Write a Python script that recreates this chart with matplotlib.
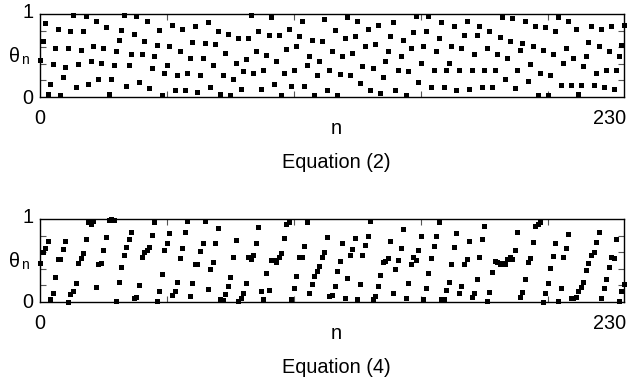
import numpy as np
import matplotlib
matplotlib.use("Agg")
import matplotlib.pyplot as plt

plt.rcParams['font.family'] = ['Liberation Sans', 'DejaVu Sans']

# theta_n values, n = 0..230
theta_eq2 = [
    0.44, 0.67, 0.89, 0.04, 0.16, 0.40, 0.59, 0.82, 0.02, 0.24,
    0.36, 0.59, 0.79, 0.99, 0.12, 0.40, 0.57, 0.79, 0.98, 0.16,
    0.43, 0.62, 0.91, 0.22, 0.41, 0.59, 0.84, 0.04, 0.22, 0.38,
    0.55, 0.69, 0.81, 0.99, 0.13, 0.38, 0.52, 0.76, 0.98, 0.18,
    0.52, 0.68, 0.91, 0.11, 0.35, 0.49, 0.63, 0.81, 0.02, 0.29,
    0.39, 0.61, 0.87, 0.09, 0.27, 0.56, 0.82, 0.09, 0.29, 0.47,
    0.66, 0.86, 0.06, 0.26, 0.47, 0.65, 0.90, 0.12, 0.39, 0.64,
    0.79, 0.04, 0.27, 0.53, 0.76, 0.03, 0.22, 0.41, 0.71, 0.10,
    0.31, 0.46, 0.71, 0.99, 0.29, 0.55, 0.80, 0.10, 0.33, 0.51,
    0.75, 0.96, 0.16, 0.43, 0.75, 0.02, 0.29, 0.58, 0.82, 0.13,
    0.33, 0.62, 0.74, 0.92, 0.13, 0.38, 0.49, 0.69, 0.02, 0.27,
    0.43, 0.68, 0.94, 0.08, 0.32, 0.56, 0.81, 0.03, 0.28, 0.49,
    0.71, 0.96, 0.26, 0.53, 0.73, 0.92, 0.17, 0.37, 0.61, 0.82,
    0.08, 0.35, 0.64, 0.87, 0.05, 0.24, 0.43, 0.56, 0.74, 0.90,
    0.08, 0.33, 0.49, 0.69, 0.03, 0.31, 0.59, 0.78, 0.98, 0.18,
    0.41, 0.61, 0.79, 0.98, 0.12, 0.33, 0.55, 0.71, 0.90, 0.12,
    0.33, 0.41, 0.62, 0.85, 0.08, 0.33, 0.59, 0.75, 0.91, 0.10,
    0.33, 0.52, 0.75, 0.86, 0.12, 0.33, 0.59, 0.79, 0.12, 0.33,
    0.52, 0.72, 0.96, 0.22, 0.47, 0.67, 0.95, 0.11, 0.33, 0.57,
    0.65, 0.91, 0.19, 0.40, 0.61, 0.85, 0.02, 0.29, 0.57, 0.84,
    0.03, 0.26, 0.52, 0.79, 0.96, 0.14, 0.41, 0.59, 0.92, 0.14,
    0.47, 0.82, 0.04, 0.14, 0.37, 0.50, 0.66, 0.86, 0.14, 0.29,
    0.62, 0.82, 0.12, 0.33, 0.55, 0.86, 0.10, 0.33, 0.50, 0.63,
    0.87,
]

theta_eq4 = [
    0.47, 0.60, 0.65, 0.74, 0.03, 0.11, 0.30, 0.52, 0.52, 0.64,
    0.73, 0.00, 0.09, 0.13, 0.23, 0.47, 0.53, 0.59, 0.76, 0.96,
    0.94, 0.97, 0.18, 0.45, 0.47, 0.63, 0.78, 0.99, 1.00, 0.99,
    0.01, 0.24, 0.42, 0.56, 0.66, 0.76, 0.84, 0.04, 0.06, 0.20,
    0.54, 0.60, 0.63, 0.66, 0.81, 0.96, 0.01, 0.13, 0.33, 0.63,
    0.71, 0.83, 0.08, 0.13, 0.24, 0.53, 0.65, 0.84, 0.97, 0.07,
    0.23, 0.45, 0.46, 0.61, 0.71, 0.98, 0.15, 0.40, 0.48, 0.71,
    0.89, 0.03, 0.02, 0.09, 0.19, 0.30, 0.54, 0.75, 0.01, 0.04,
    0.11, 0.23, 0.54, 0.52, 0.57, 0.71, 0.90, 0.13, 0.03, 0.35,
    0.14, 0.50, 0.51, 0.48, 0.54, 0.59, 0.77, 0.94, 0.96, 0.03,
    0.17, 0.31, 0.54, 0.54, 0.67, 0.96, 0.11, 0.22, 0.31, 0.37,
    0.43, 0.54, 0.60, 0.78, 0.07, 0.08, 0.19, 0.37, 0.49, 0.71,
    0.05, 0.29, 0.56, 0.64, 0.77, 0.03, 0.21, 0.57, 0.68, 0.80,
    0.98, 0.03, 0.07, 0.19, 0.32, 0.48, 0.49, 0.53, 0.73, 0.11,
    0.40, 0.50, 0.65, 0.88, 0.05, 0.23, 0.46, 0.54, 0.51, 0.63,
    0.80, 0.03, 0.17, 0.35, 0.53, 0.67, 0.80, 0.96, 0.03, 0.03,
    0.14, 0.24, 0.45, 0.66, 0.83, 0.11, 0.19, 0.45, 0.52, 0.73,
    0.06, 0.11, 0.28, 0.54, 0.76, 0.92, 0.01, 0.12, 0.36, 0.49,
    0.48, 0.45, 0.47, 0.45, 0.52, 0.54, 0.52, 0.63, 0.84, 0.06,
    0.12, 0.28, 0.48, 0.53, 0.72, 0.92, 0.94, 0.96, 0.00, 0.10,
    0.23, 0.41, 0.55, 0.71, 0.01, 0.17, 0.54, 0.65, 0.82, 0.05,
    0.05, 0.06, 0.13, 0.18, 0.24, 0.38, 0.47, 0.56, 0.60, 0.72,
    0.84, 0.05, 0.16, 0.27, 0.42, 0.54, 0.53, 0.76, 0.01, 0.13,
    0.21,
]

titles = ["Equation (2)", "Equation (4)"]
x_max = 230
x_minor = [50, 100, 150, 200]
y_minor = [0.2, 0.4, 0.6, 0.8]

W, H = 643, 383
fig = plt.figure(figsize=(W / 100, H / 100), dpi=100)

# pixel geometry of each panel: (top, bottom)
panels = [(14, 97), (219, 301.7)]
left_px, right_px = 40, 624
FS = 14.3

for (top, bot), theta, title in zip(panels, [theta_eq2, theta_eq4], titles):
    ax = fig.add_axes([left_px / W, (H - bot) / H, (right_px - left_px) / W, (bot - top) / H])
    n = np.arange(len(theta))
    ax.plot(n, theta, linestyle='none', marker='s', markersize=3.6,
            color='black', markeredgewidth=0, clip_on=False)
    ax.set_xlim(0, x_max)
    ax.set_ylim(0, 1)
    ax.set_xticks(x_minor)
    ax.set_yticks(y_minor)
    ax.tick_params(direction='in', length=4, width=0.8, top=True, right=True,
                   labelbottom=False, labelleft=False, color='#555555')
    for s in ax.spines.values():
        s.set_linewidth(1.0)
        s.set_color('black')

    # tick labels and axis labels as figure text (pixel positions)
    def ftxt(x, y, s, size=FS, **kw):
        fig.text(x / W, 1 - y / H, s, fontsize=size, **kw)

    ftxt(28, top - 1, "1", ha='center', va='center')
    ftxt(28, bot + 1, "0", ha='center', va='center')
    ftxt(15, (top + bot) / 2 + 1, "θ", ha='center', va='center')
    ftxt(25, (top + bot) / 2 + 5, "n", size=10, ha='center', va='center')
    ftxt(40, bot + 22, "0", ha='center', va='center')
    ftxt(626, bot + 22, "230", ha='right', va='center')
    ftxt(336, bot + 32, "n", ha='center', va='center')
    ftxt(336, bot + 66, title, ha='center', va='center')

fig.savefig("out.png", dpi=100)
